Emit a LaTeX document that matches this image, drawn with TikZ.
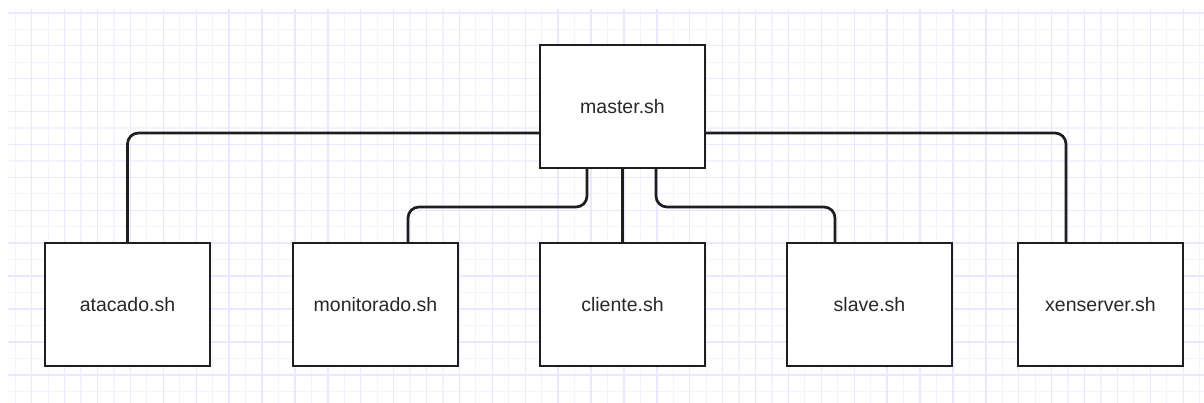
\documentclass[tikz,border=0pt]{standalone}
\usepackage{fontspec}
\setmainfont{Liberation Sans}
\definecolor{gridminor}{RGB}{243,243,255}
\definecolor{gridmajor}{RGB}{232,232,254}
\definecolor{inkline}{RGB}{30,30,30}
\definecolor{inktext}{RGB}{40,40,40}
\tikzset{
  minorline/.style={gridminor, line width=1.2pt},
  majorline/.style={gridmajor, line width=1.4pt},
  script/.style={fill=white, rectangle,
    minimum width=165pt, minimum height=123pt, inner sep=0pt,
    text=inktext, font=\fontsize{19.5}{22}\selectfont},
  outline/.style={draw=inkline, line width=2.5pt},
  conn/.style={draw=inkline, line width=2.7pt, rounded corners=11pt}
}
\begin{document}
\begin{tikzpicture}[x=1pt, y=-1pt]
  \useasboundingbox (0,0) rectangle (1204,403);
  \fill[white] (0,0) rectangle (1204,403);
  % background grid: minor lines every 16.45, major every 32.9
  \begin{scope}
    \clip (8,9) rectangle (1204,403);
    \foreach \i in {0,...,36} {
      \draw[minorline] (15.25+32.9*\i, 9) -- (15.25+32.9*\i, 403);
    }
    \foreach \i in {0,...,12} {
      \draw[minorline] (8, 29.35+32.9*\i) -- (1204, 29.35+32.9*\i);
    }
    \foreach \i in {0,...,36} {
      \draw[majorline] (31.7+32.9*\i, 9) -- (31.7+32.9*\i, 403);
    }
    \foreach \i in {0,...,12} {
      \draw[majorline] (8, 12.9+32.9*\i) -- (1204, 12.9+32.9*\i);
    }
  \end{scope}

  % scripts
  \node[script] (master)     at (622.5,106.5) {master.sh};
  \node[script] (atacado)    at (127.5,304.5) {atacado.sh};
  \node[script] (monitorado) at (375.5,304.5) {monitorado.sh};
  \node[script] (cliente)    at (622.5,304.5) {cliente.sh};
  \node[script] (slave)      at (869.5,304.5) {slave.sh};
  \node[script] (xenserver)  at (1100.5,304.5) {xenserver.sh};

  % bends of the inner connectors
  \coordinate (jm) at (408,207);
  \coordinate (js) at (835,207);

  % connectors from master.sh
  \draw[conn] ([yshift=-26.5pt]master.west) -| (atacado.north);
  \draw[conn] ([yshift=-26.5pt]master.east) -| ([xshift=-34.5pt]xenserver.north);
  \draw[conn] ([xshift=-35.5pt]master.south) |- (jm) -- ([xshift=32.5pt]monitorado.north);
  \draw[conn] ([xshift=33.5pt]master.south) |- (js) -- ([xshift=-34.5pt]slave.north);
  \draw[conn] (master.south) -- (cliente.north);

  % box outlines drawn over the connector ends
  \foreach \n in {master,atacado,monitorado,cliente,slave,xenserver} {
    \draw[outline] (\n.north west) rectangle (\n.south east);
  }
\end{tikzpicture}
\end{document}
